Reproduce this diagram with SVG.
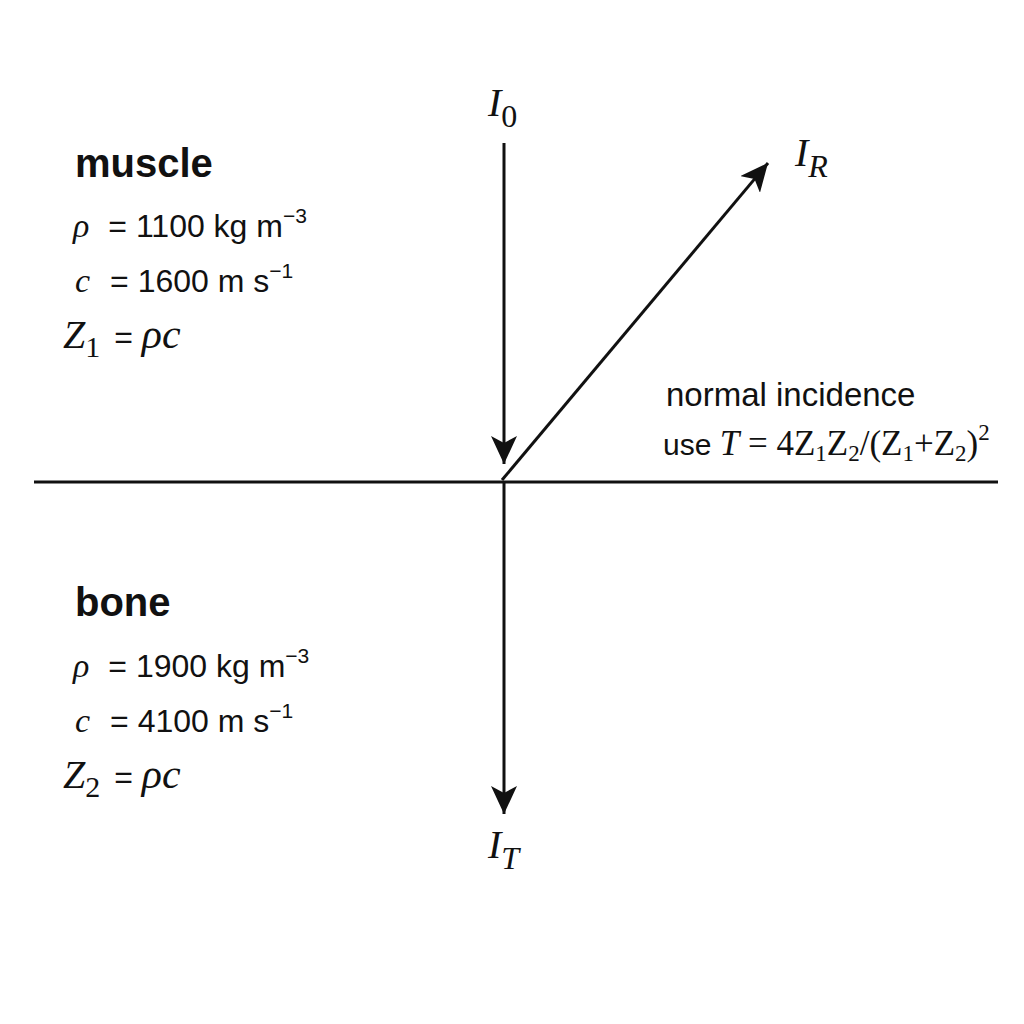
<svg xmlns="http://www.w3.org/2000/svg" width="1024" height="1024" viewBox="0 0 1024 1024">
<style>
.sans{font-family:"Liberation Sans",Arial,sans-serif;fill:#111}
.serif{font-family:"Liberation Serif","Times New Roman",serif;fill:#111}
.it{font-style:italic}
.h{font-size:40px;font-weight:bold}
.ln{stroke:#111;stroke-width:3;fill:none}
</style>
<defs>
<marker id="ah" markerWidth="30" markerHeight="26" refX="28" refY="13" orient="auto" markerUnits="userSpaceOnUse">
<path d="M0,0 L28,13 L0,26 L7,13 Z" fill="#111"/>
</marker>
</defs>
<rect width="1024" height="1024" fill="#fff"/>
<g id="connectors">
<line class="ln" x1="34" y1="482" x2="998" y2="482"/>
<line class="ln" x1="504" y1="143" x2="504" y2="464" marker-end="url(#ah)"/>
<line class="ln" x1="502" y1="480" x2="768" y2="163" marker-end="url(#ah)"/>
<line class="ln" x1="504" y1="482" x2="504" y2="814" marker-end="url(#ah)"/>
</g>
<g id="I0"><text class="serif it" x="488" y="116" font-size="40">I<tspan font-style="normal" font-size="32" dy="11">0</tspan></text></g>
<g id="IR"><text class="serif it" x="795" y="166" font-size="40">I<tspan font-size="32" dy="11">R</tspan></text></g>
<g id="IT"><text class="serif it" x="488" y="858" font-size="40">I<tspan font-size="32" dy="11">T</tspan></text></g>
<g id="muscle">
<text class="sans h" x="75" y="177">muscle</text>
<text x="73" y="237"><tspan class="serif it" font-size="34">ρ</tspan><tspan class="sans" font-size="32" dx="19">= 1100 kg m</tspan><tspan class="sans" font-size="21" dy="-14">−3</tspan></text>
<text x="75" y="292"><tspan class="serif it" font-size="34">c</tspan><tspan class="sans" font-size="32" dx="20">= 1600 m s</tspan><tspan class="sans" font-size="21" dy="-14">−1</tspan></text>
<text x="63" y="348"><tspan class="serif it" font-size="40">Z</tspan><tspan class="serif" font-size="30" dy="9">1</tspan><tspan class="sans" font-size="32" dx="14" dy="-9">= </tspan><tspan class="serif it" font-size="42">ρc</tspan></text>
</g>
<g id="bone">
<text class="sans h" x="75" y="616">bone</text>
<text x="73" y="677"><tspan class="serif it" font-size="34">ρ</tspan><tspan class="sans" font-size="32" dx="19">= 1900 kg m</tspan><tspan class="sans" font-size="21" dy="-14">−3</tspan></text>
<text x="75" y="732"><tspan class="serif it" font-size="34">c</tspan><tspan class="sans" font-size="32" dx="20">= 4100 m s</tspan><tspan class="sans" font-size="21" dy="-14">−1</tspan></text>
<text x="63" y="788"><tspan class="serif it" font-size="40">Z</tspan><tspan class="serif" font-size="30" dy="9">2</tspan><tspan class="sans" font-size="32" dx="14" dy="-9">= </tspan><tspan class="serif it" font-size="42">ρc</tspan></text>
</g>
<g id="note">
<text class="sans" x="666" y="406" font-size="33">normal incidence</text>
<text x="663" y="455" font-size="35"><tspan class="sans" font-size="30">use </tspan><tspan class="serif it">T</tspan><tspan class="serif"> = 4Z</tspan><tspan class="serif" font-size="23" dy="6">1</tspan><tspan class="serif" dy="-6">Z</tspan><tspan class="serif" font-size="23" dy="6">2</tspan><tspan class="serif" dy="-6">/(Z</tspan><tspan class="serif" font-size="23" dy="6">1</tspan><tspan class="serif" dy="-6">+Z</tspan><tspan class="serif" font-size="23" dy="6">2</tspan><tspan class="serif" dy="-6">)</tspan><tspan class="serif" font-size="23" dy="-15">2</tspan></text>
</g>
</svg>
